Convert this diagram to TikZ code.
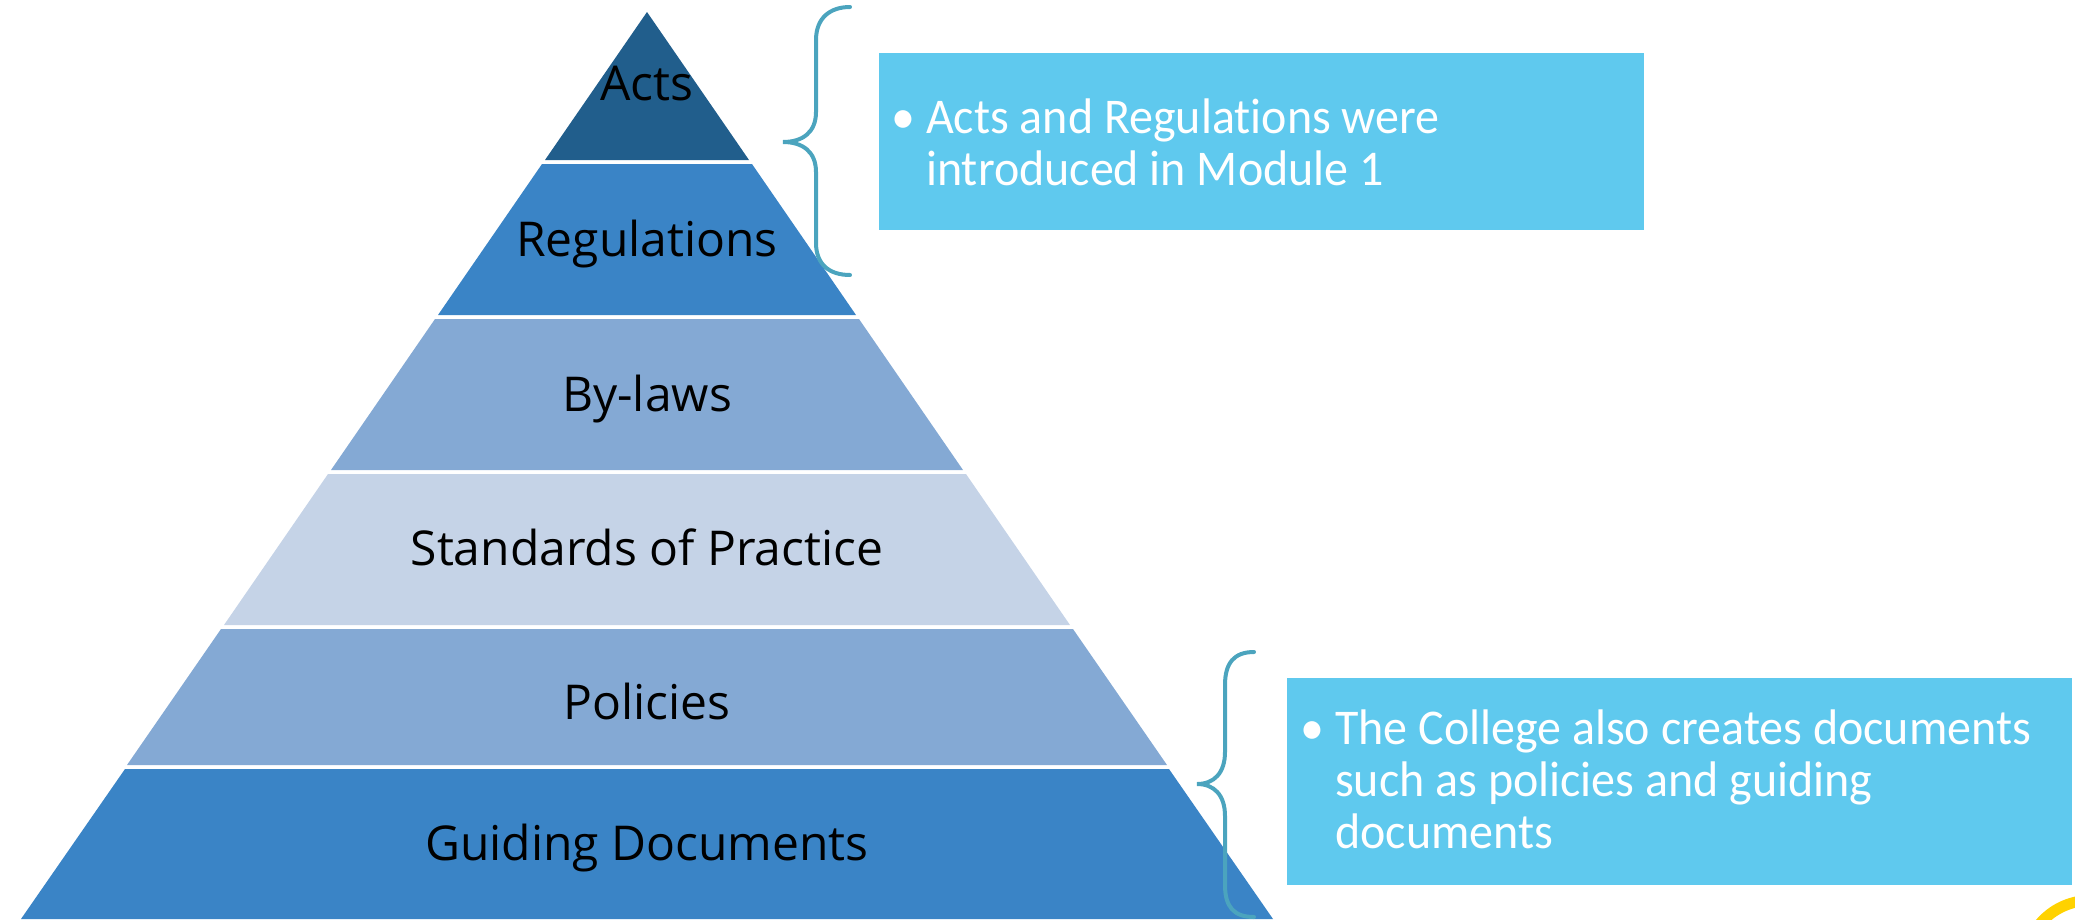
\documentclass[tikz,border=0pt]{standalone}
\usepackage{fontspec}
\setmainfont{Open Sans}
\newfontfamily\notefont[FakeStretch=0.96, Ligatures=NoCommon]{Carlito}

\definecolor{actsblue}{RGB}{33,94,140}
\definecolor{midblue}{RGB}{58,132,198}
\definecolor{softblue}{RGB}{132,169,212}
\definecolor{paleblue}{RGB}{197,211,231}
\definecolor{notecyan}{RGB}{95,201,238}
\definecolor{bracecol}{RGB}{75,164,190}
\definecolor{logoyellow}{RGB}{255,210,0}

\begin{document}
\begin{tikzpicture}[x=1pt,y=-1pt,
    tierlabel/.style={anchor=base, inner sep=0pt, text=black, font=\fontsize{48}{56}\selectfont},
    notebox/.style={anchor=north west, fill=notecyan, inner sep=0pt},
    notetext/.style={anchor=base west, inner sep=0pt, text=white, font=\notefont\fontsize{50}{52}\selectfont},
    bracket/.style={draw=bracecol, line width=4pt, line cap=round}]
  \useasboundingbox (0,0) rectangle (2075,919);

  % pyramid tiers
  \fill[actsblue] (647,12) -- (749,160) -- (545,160) -- cycle;
  \fill[midblue] (542,164) -- (752,164) -- (856,315) -- (438,315) -- cycle;
  \fill[softblue] (435,319) -- (859,319) -- (963,470) -- (331,470) -- cycle;
  \fill[paleblue] (328,474) -- (966,474) -- (1070,625) -- (224,625) -- cycle;
  \fill[softblue] (221,629) -- (1073,629) -- (1167,765) -- (127,765) -- cycle;
  \fill[midblue] (125,769) -- (1169,769) -- (1273,919) -- (21,919) -- cycle;

  \node[tierlabel] (acts) at (647,100) {Acts};
  \node[tierlabel] (regs) at (647,256) {Regulations};
  \node[tierlabel] (bylaws) at (647,411) {By-laws};
  \node[tierlabel] (stds) at (647,565) {Standards of Practice};
  \node[tierlabel] (policies) at (647,719) {Policies};
  \node[tierlabel] (guiding) at (647,860) {Guiding Documents};

  % notes
  \node[notebox, minimum width=765pt, minimum height=177pt] (actsnote) at (879,53) {};
  \node[notetext] (actstext) at (891,133)
    {\begin{tabular}[t]{@{}l@{}l@{}}\makebox[35pt][l]{\textbullet} & Acts and Regulations were\\
      & introduced in Module 1\end{tabular}};
  \node[notebox, minimum width=785pt, minimum height=207pt] (collegenote) at (1287,678) {};
  \node[notetext] (collegetext) at (1300,744)
    {\begin{tabular}[t]{@{}l@{}l@{}}\makebox[35pt][l]{\textbullet} & The College also creates documents\\
      & such as policies and guiding\\ & documents\end{tabular}};

  % braces
  \draw[bracket] (850,7) .. controls (830,7) and (816,18) .. (816,40) -- (816,112)
    .. controls (816,132) and (803,142) .. (783,142)
    .. controls (803,142) and (816,152) .. (816,172) -- (816,243)
    .. controls (816,265) and (830,275) .. (850,275);
  \draw[bracket] (1254,652) .. controls (1234,652) and (1225,663) .. (1225,685) -- (1225,752)
    .. controls (1225,773) and (1214,784) .. (1197,784)
    .. controls (1214,784) and (1225,795) .. (1225,816) -- (1225,885)
    .. controls (1225,907) and (1234,917) .. (1254,917);

  \draw[logoyellow, line width=11pt] (2090,966) circle (65.5);
\end{tikzpicture}
\end{document}
